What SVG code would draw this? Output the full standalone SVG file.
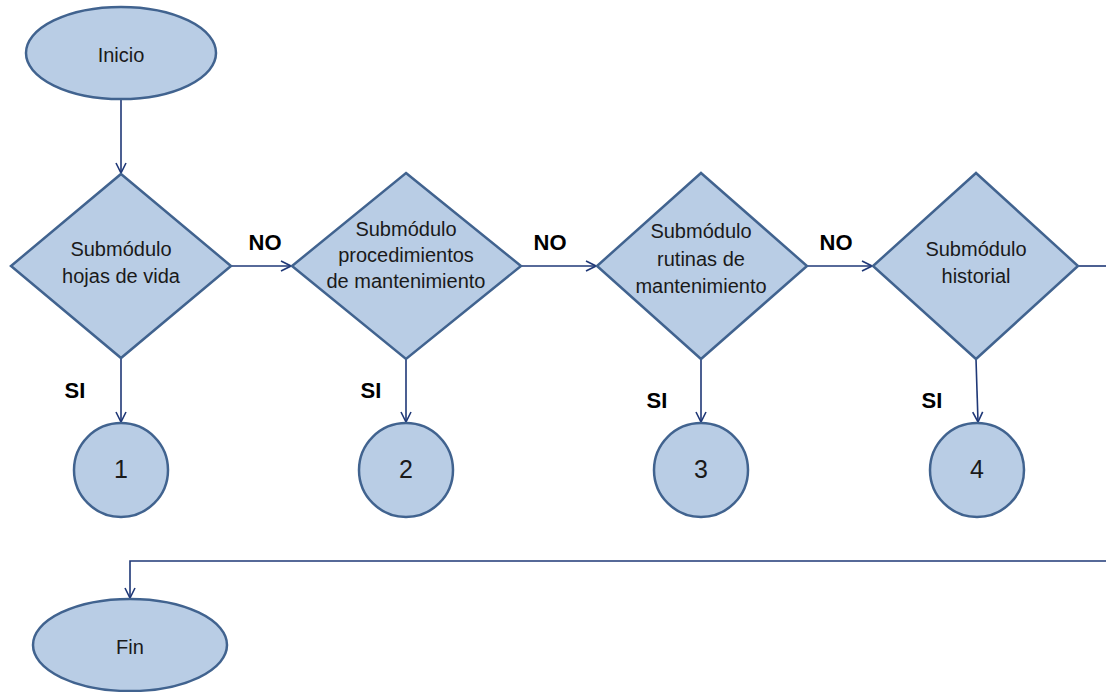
<svg xmlns="http://www.w3.org/2000/svg" width="1106" height="692" viewBox="0 0 1106 692">
  <style>
    .shape { fill: #b9cde5; stroke: #41638f; stroke-width: 2.5; }
    .lbl { font-family: "Liberation Sans", Arial, sans-serif; font-size: 20px; fill: #1a1a1a; text-anchor: middle; }
    .num { font-family: "Liberation Sans", Arial, sans-serif; font-size: 25px; fill: #1a1a1a; text-anchor: middle; }
    .tag { font-family: "Liberation Sans", Arial, sans-serif; font-size: 22px; font-weight: bold; fill: #000; text-anchor: middle; }
    .conn { fill: none; stroke: #1f3877; stroke-width: 1.6; }
  </style>
  <defs>
    <marker id="arrow" viewBox="0 0 12 12" markerWidth="12" markerHeight="12" refX="11" refY="6" orient="auto" markerUnits="userSpaceOnUse">
      <path d="M1,1 L11,6 L1,11" fill="none" stroke="#1f3877" stroke-width="1.6"/>
    </marker>
  </defs>
  <rect width="1106" height="692" fill="#ffffff"/>

  <g id="connectors">
    <path class="conn" d="M121,100 L121,173" marker-end="url(#arrow)"/>
    <path class="conn" d="M231,266 L291,266" marker-end="url(#arrow)"/>
    <path class="conn" d="M521,266 L596,266" marker-end="url(#arrow)"/>
    <path class="conn" d="M807,266 L872,266" marker-end="url(#arrow)"/>
    <path class="conn" d="M1078,266 L1106,266"/>
    <path class="conn" d="M121,358 L121,422" marker-end="url(#arrow)"/>
    <path class="conn" d="M406,359 L406,422" marker-end="url(#arrow)"/>
    <path class="conn" d="M701,359 L701,422" marker-end="url(#arrow)"/>
    <path class="conn" d="M976,359 L978,422" marker-end="url(#arrow)"/>
    <path class="conn" d="M1106,561 L130,561 L130,598" marker-end="url(#arrow)"/>
    <text class="tag" x="265" y="250">NO</text>
    <text class="tag" x="550" y="250">NO</text>
    <text class="tag" x="836" y="250">NO</text>
    <text class="tag" x="75" y="398">SI</text>
    <text class="tag" x="371" y="398">SI</text>
    <text class="tag" x="657" y="408">SI</text>
    <text class="tag" x="932" y="408">SI</text>
  </g>

  <g id="inicio">
    <ellipse class="shape" cx="121" cy="53" rx="95" ry="46"/>
    <text class="lbl" x="121" y="62">Inicio</text>
  </g>

  <g id="hojas-de-vida">
    <polygon class="shape" points="121,174 231,266 121,358 11,266"/>
    <text class="lbl" x="121" y="256">Submódulo</text>
    <text class="lbl" x="121" y="283">hojas de vida</text>
  </g>

  <g id="procedimientos">
    <polygon class="shape" points="406,173 521,266 406,359 292,266"/>
    <text class="lbl" x="406" y="236">Submódulo</text>
    <text class="lbl" x="406" y="262">procedimientos</text>
    <text class="lbl" x="406" y="288">de mantenimiento</text>
  </g>

  <g id="rutinas">
    <polygon class="shape" points="701,173 807,266 701,359 597,266"/>
    <text class="lbl" x="701" y="238">Submódulo</text>
    <text class="lbl" x="701" y="266">rutinas de</text>
    <text class="lbl" x="701" y="293">mantenimiento</text>
  </g>

  <g id="historial">
    <polygon class="shape" points="976,173 1078,266 976,359 873,266"/>
    <text class="lbl" x="976" y="256">Submódulo</text>
    <text class="lbl" x="976" y="283">historial</text>
  </g>

  <g id="conector-1">
    <circle class="shape" cx="121" cy="470" r="47"/>
    <text class="num" x="121" y="478">1</text>
  </g>
  <g id="conector-2">
    <circle class="shape" cx="406" cy="470" r="47"/>
    <text class="num" x="406" y="478">2</text>
  </g>
  <g id="conector-3">
    <circle class="shape" cx="701" cy="470" r="47"/>
    <text class="num" x="701" y="478">3</text>
  </g>
  <g id="conector-4">
    <circle class="shape" cx="977" cy="470" r="47"/>
    <text class="num" x="977" y="478">4</text>
  </g>

  <g id="fin">
    <ellipse class="shape" cx="130" cy="645" rx="97" ry="46"/>
    <text class="lbl" x="130" y="654">Fin</text>
  </g>
</svg>
